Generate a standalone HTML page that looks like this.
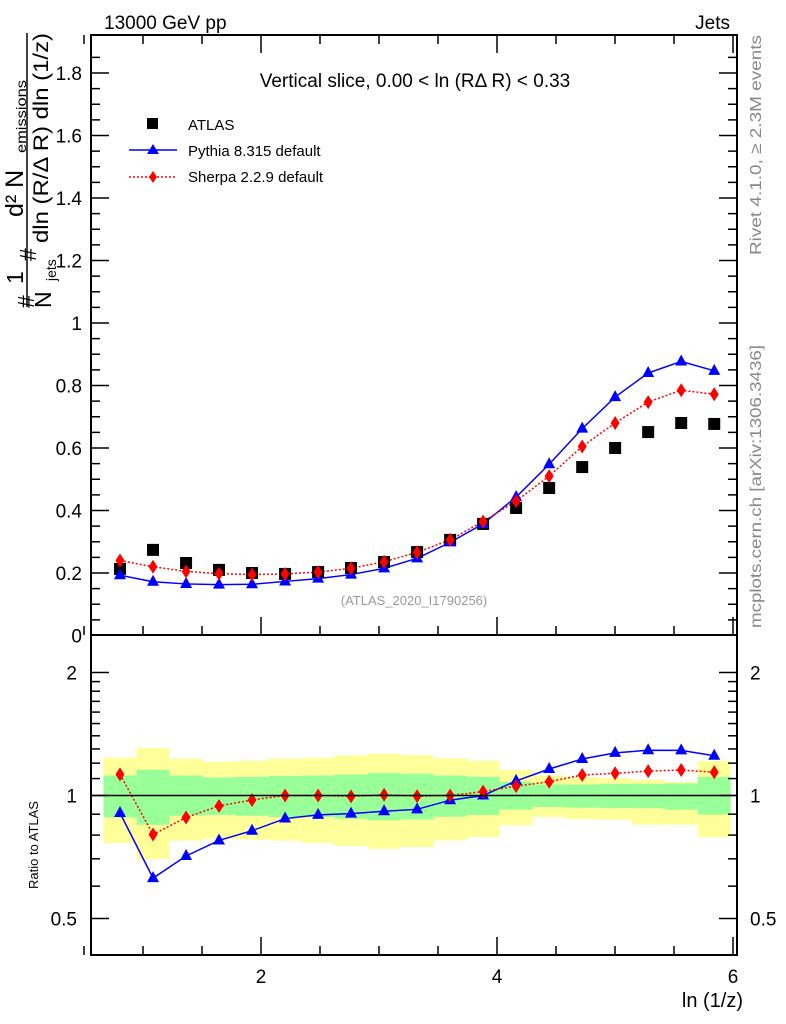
<!DOCTYPE html>
<html><head><meta charset="utf-8"><style>
body{margin:0;background:#fff;}
svg{display:block;font-family:"Liberation Sans",sans-serif;}
</style></head><body>
<svg id="chart" width="786" height="1024" viewBox="0 0 786 1024">
<g id="bands"></g>
<g id="ticks"></g>
<g id="series"></g>
<rect x="91" y="35" width="646" height="600" fill="none" stroke="#000" stroke-width="2"/>
<rect x="91" y="635" width="646" height="320" fill="none" stroke="#000" stroke-width="2"/>
<line x1="91" y1="795.5" x2="737" y2="795.5" stroke="#000" stroke-width="1.5"/>
<text x="104" y="29" font-size="19">13000 GeV pp</text>
<text x="730" y="29" font-size="19" text-anchor="end">Jets</text>
<text x="415" y="87" font-size="19" text-anchor="middle">Vertical slice, 0.00 &lt; ln (RΔ R) &lt; 0.33</text>
<g>
<rect x="147" y="118" width="11" height="11" fill="#000"/>
<text x="188" y="130" font-size="15">ATLAS</text>
<line x1="129" y1="150" x2="177" y2="150" stroke="#00f" stroke-width="1.5"/>
<polygon points="153,144 159,154 147,154" fill="#00f"/>
<text x="188" y="156" font-size="15">Pythia 8.315 default</text>
<line x1="129" y1="177" x2="177" y2="177" stroke="#f00" stroke-width="1.5" stroke-dasharray="2,2"/>
<polygon points="153,171 157,177 153,183 149,177" fill="#f00"/>
<text x="188" y="182" font-size="15">Sherpa 2.2.9 default</text>
</g>
<text x="414" y="605" font-size="13" fill="#999" text-anchor="middle">(ATLAS_2020_I1790256)</text>
<text transform="translate(761,255) rotate(-90)" font-size="16" fill="#888" textLength="220" lengthAdjust="spacingAndGlyphs">Rivet 4.1.0, ≥ 2.3M events</text>
<text transform="translate(761,628) rotate(-90)" font-size="15.5" fill="#888" textLength="283" lengthAdjust="spacingAndGlyphs">mcplots.cern.ch [arXiv:1306.3436]</text>
<g transform="rotate(-90)">
<text x="-308" y="34" font-size="23">#</text>
<text x="-284" y="23" font-size="23">1</text>
<text x="-308" y="51" font-size="23">N</text>
<text x="-281" y="56" font-size="14">jets</text>
<line x1="-307" y1="27" x2="-33" y2="27" stroke="#000" stroke-width="1.5"/>
<text x="-261" y="36" font-size="23">#</text>
<text x="-243" y="48" font-size="21" textLength="210" lengthAdjust="spacingAndGlyphs">dln (R/Δ R) dln (1/z)</text>
<text x="-217" y="23" font-size="25">d² N</text>
<text x="-153" y="26" font-size="14" textLength="73" lengthAdjust="spacingAndGlyphs">emissions</text>
</g>
<text transform="translate(38,845) rotate(-90)" font-size="13" text-anchor="middle">Ratio to ATLAS</text>
<text x="743" y="1007" font-size="20" text-anchor="end">ln (1/z)</text>
</svg>
<script>
const xCenters=[0.805,1.085,1.365,1.644,1.924,2.204,2.484,2.763,3.043,3.323,3.603,3.882,4.162,4.442,4.722,5.001,5.281,5.561,5.841];
const atlasValues=[0.213,0.274,0.232,0.21,0.2,0.197,0.203,0.216,0.235,0.267,0.306,0.357,0.408,0.472,0.539,0.6,0.651,0.68,0.677];
const pythiaValues=[0.193,0.172,0.165,0.163,0.164,0.173,0.182,0.195,0.215,0.247,0.298,0.357,0.443,0.548,0.662,0.763,0.84,0.877,0.847];
const sherpaValues=[0.24,0.22,0.205,0.198,0.195,0.197,0.203,0.215,0.236,0.266,0.306,0.365,0.43,0.51,0.605,0.68,0.747,0.785,0.772];
const yellowHi=[1.237,1.308,1.23,1.209,1.216,1.23,1.237,1.253,1.265,1.256,1.233,1.216,1.154,1.119,1.109,1.103,1.093,1.08,1.216];
const yellowLo=[0.765,0.699,0.775,0.784,0.78,0.775,0.765,0.753,0.74,0.748,0.776,0.791,0.846,0.886,0.875,0.873,0.848,0.848,0.791];
const greenHi=[1.119,1.156,1.119,1.107,1.111,1.117,1.119,1.126,1.136,1.131,1.119,1.111,1.08,1.064,1.064,1.068,1.068,1.07,1.111];
const greenLo=[0.884,0.848,0.892,0.896,0.892,0.886,0.886,0.877,0.869,0.873,0.887,0.896,0.923,0.937,0.934,0.932,0.931,0.923,0.898];
const binWidth=0.2797;
const ns="http://www.w3.org/2000/svg";
const X=v=>261+(v-2)*118;
const Y=v=>635.5-v*312.5;
const R=v=>795.5-Math.log10(v)*408.6;
function mk(tag,attrs,parent){const e=document.createElementNS(ns,tag);for(const k in attrs)e.setAttribute(k,attrs[k]);document.getElementById(parent).appendChild(e);return e;}
xCenters.forEach((c,i)=>{
 const x0=X(c-binWidth/2),w=binWidth*118;
 let e=mk('rect',{x:x0,y:R(yellowHi[i]),width:w,height:R(yellowLo[i])-R(yellowHi[i]),fill:'#ffff99'},'bands');
 
 
 e=mk('rect',{x:x0,y:R(greenHi[i]),width:w,height:R(greenLo[i])-R(greenHi[i]),fill:'#99ff99'},'bands');
 
 
});
function tick(x1,y1,x2,y2){mk('line',{x1,y1,x2,y2,stroke:'#000','stroke-width':1.5},'ticks');}
function label(x,y,t,anchor,size){const e=mk('text',{x,y,'font-size':size||19,'text-anchor':anchor},'ticks');e.textContent=t;}
for(let v=0;v<=1.9;v+=0.05){const y=Y(v);const major=Math.abs(v/0.2-Math.round(v/0.2))<1e-6;const L=major?18:9;if(v>0.01){tick(91,y,91+L,y);tick(737,y,737-L,y);}if(major)label(82,y+7,(Math.round(v*10)/10).toString(),'end');}
for(let v=0.5;v<=6;v+=0.5){const x=X(v);const major=Math.abs(v%2)<1e-6;const L=major?18:9;tick(x,35,x,35+L);tick(x,635,x,635-L);tick(x,955,x,955-L);if(major)label(x,983,v.toString(),'middle');}
[0.5,0.6,0.7,0.8,0.9,1,1.1,1.2,1.3,1.4,1.5,1.6,1.7,1.8,1.9,2].forEach(v=>{const y=R(v);const major=(v===0.5||v===1||v===2);const L=major?18:9;tick(91,y,91+L,y);tick(737,y,737-L,y);if(major){label(77,y+7,v.toString(),'end');label(750,y+7,v.toString(),'start');}});
function line(vals,yf,color,dash,name){const pts=xCenters.map((c,i)=>X(c)+','+yf(vals[i])).join(' ');const e=mk('polyline',{points:pts,fill:'none',stroke:color,'stroke-width':1.5,'stroke-dasharray':dash},'series');}
function tri(x,y){const e=mk('polygon',{points:`${x},${y-7} ${x+6},${y+4} ${x-6},${y+4}`,fill:'#00f'},'series');}
function dia(x,y){const e=mk('polygon',{points:`${x},${y-7} ${x+4.5},${y} ${x},${y+7} ${x-4.5},${y}`,fill:'#f00'},'series');}
const pyR=pythiaValues.map((v,i)=>v/atlasValues[i]);
const shR=sherpaValues.map((v,i)=>v/atlasValues[i]);
line(pythiaValues,Y,'#00f','none','pythia-line');
line(sherpaValues,Y,'#f00','2,2','sherpa-line');
line(pyR,R,'#00f','none','pythia-ratio-line');
line(shR,R,'#f00','2,2','sherpa-ratio-line');
xCenters.forEach((c,i)=>{
 const x=X(c);
 const e=mk('rect',{x:x-6,y:Y(atlasValues[i])-6,width:12,height:12,fill:'#000'},'series');
 
 
});
xCenters.forEach((c,i)=>{const x=X(c);tri(x,Y(pythiaValues[i]));dia(x,Y(sherpaValues[i]));tri(x,R(pyR[i]));dia(x,R(shR[i]));});
</script>
</body></html>
